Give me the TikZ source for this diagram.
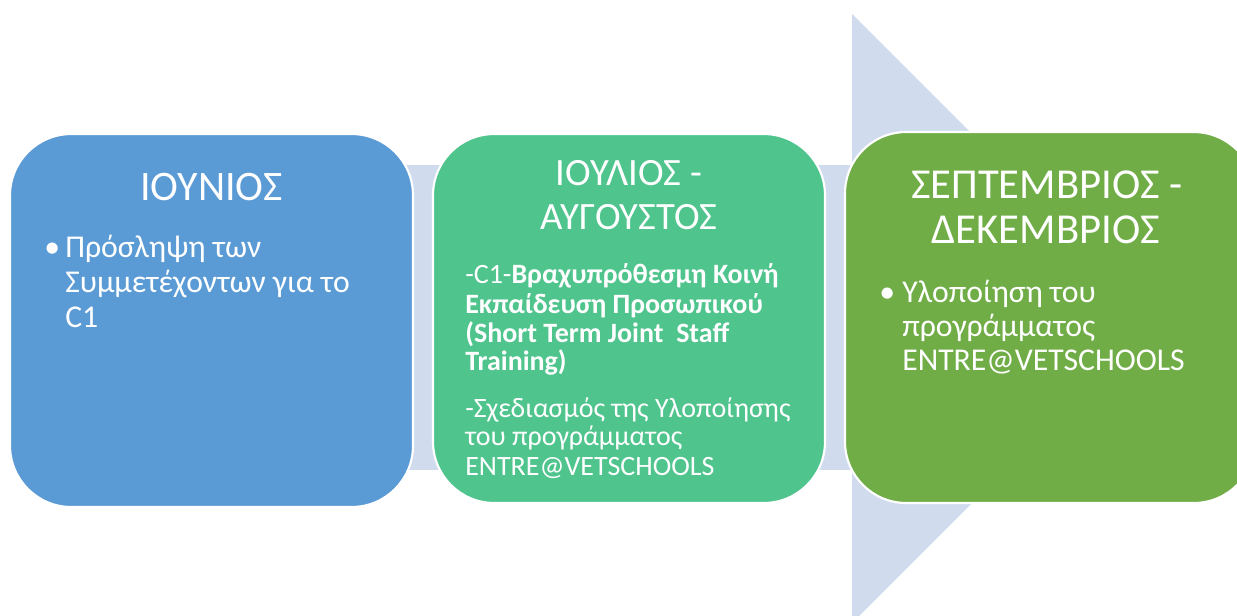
\documentclass[tikz,border=0pt]{standalone}
\usepackage{fontspec}
\setmainfont{Carlito}
\definecolor{bandc}{HTML}{D0DCEE}
\definecolor{bluec}{HTML}{5B9BD5}
\definecolor{greenc}{HTML}{4FC48D}
\definecolor{olivec}{HTML}{70AD47}
\begin{document}
\begin{tikzpicture}[x=0.75pt,y=-0.75pt,
  panel/.style={draw=white,line width=1.6pt,rounded corners=46pt},
  txt/.style={text=white,inner sep=0pt,anchor=base west},
  ttl/.style={text=white,inner sep=0pt,anchor=base},
  t1/.style={font=\fontsize{31.5}{36}\selectfont},
  t2/.style={font=\fontsize{29}{33}\selectfont},
  t3/.style={font=\fontsize{32}{36}\selectfont},
  b1/.style={font=\fontsize{23.8}{27}\selectfont},
  b2/.style={font=\fontsize{21}{24}\selectfont},
  b3/.style={font=\fontsize{23.8}{27}\selectfont}]
\useasboundingbox (0,0) rectangle (1237,615);
% background arrow
\fill[bandc] (200,165) rectangle (853,470);
\fill[bandc] (852,14) -- (1157,318.5) -- (852,623) -- cycle;
% panels
\draw[panel,fill=bluec] (10,134) rectangle (413,507);
\draw[panel,fill=greenc] (433,134) rectangle (825,503);
\begin{scope}
\clip (0,0) rectangle (1237,615);
\draw[panel,fill=olivec] (845,132) rectangle (1255,503);
\end{scope}
% panel 1
\node[ttl,t1] (h1) at (211.5,200) {ΙΟΥΝΙΟΣ};
\node[txt,b1] (p1d) at (44,257) {•};
\node[txt,b1] (p1a) at (65,257) {Πρόσληψη των};
\node[txt,b1] (p1b) at (65,292) {Συμμετέχοντων για το};
\node[txt,b1] (p1c) at (65,327) {C1};
% panel 2
\node[ttl,t2] (h2a) at (629,185) {ΙΟΥΛΙΟΣ -};
\node[ttl,t2] (h2b) at (629,229) {ΑΥΓΟΥΣΤΟΣ};
\node[txt,b2] (p2a) at (465,283) {-C1-\textbf{Βραχυπρόθεσμη Κοινή}};
\node[txt,b2] (p2b) at (465,313) {\textbf{Εκπαίδευση Προσωπικού}};
\node[txt,b2] (p2c) at (465,342) {\textbf{(Short Term Joint\ \ Staff}};
\node[txt,b2] (p2d) at (465,370) {\textbf{Training)}};
\node[txt,b2] (p2e) at (465,417) {-Σχεδιασμός της Υλοποίησης};
\node[txt,b2] (p2f) at (465,445) {του προγράμματος};
\node[txt,b2] (p2g) at (465,475) {ENTRE@VETSCHOOLS};
% panel 3
\node[ttl,t3] (h3a) at (1047,198) {ΣΕΠΤΕΜΒΡΙΟΣ -};
\node[ttl,t3] (h3b) at (1046,243) {ΔΕΚΕΜΒΡΙΟΣ};
\node[txt,b3] (p3d) at (879,302) {•};
\node[txt,b3] (p3a) at (902,302) {Υλοποίηση του};
\node[txt,b3] (p3b) at (902,336) {προγράμματος};
\node[txt,b3] (p3c) at (902,370) {ENTRE@VETSCHOOLS};
\end{tikzpicture}
\end{document}
